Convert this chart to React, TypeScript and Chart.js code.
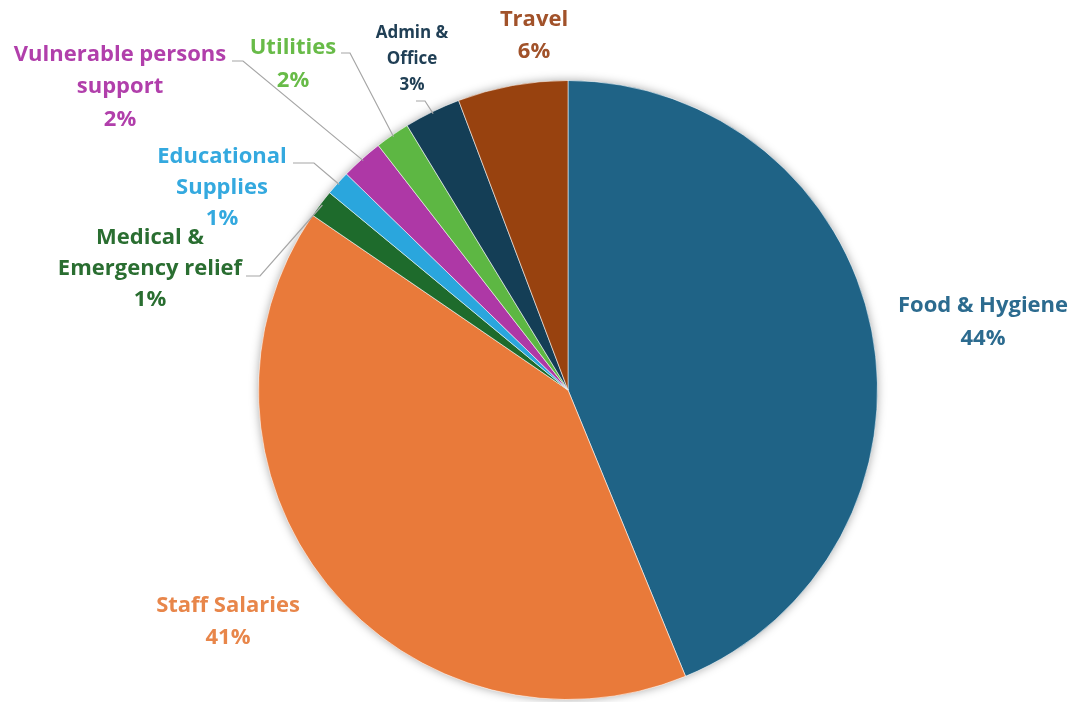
import React, { useEffect, useRef } from "react";
import { Chart, registerables } from "chart.js";

Chart.register(...registerables);

// ---- Data ----
const categories = [
  "Food & Hygiene",
  "Staff Salaries",
  "Medical & Emergency relief",
  "Educational Supplies",
  "Vulnerable persons support",
  "Utilities",
  "Admin & Office",
  "Travel",
];
const shares = [43.8, 40.75, 1.45, 1.3, 2.2, 1.8, 2.95, 5.75];
const labelLines = [
  ["Food & Hygiene"],
  ["Staff Salaries"],
  ["Medical &", "Emergency relief"],
  ["Educational", "Supplies"],
  ["Vulnerable persons", "support"],
  ["Utilities"],
  ["Admin &", "Office"],
  ["Travel"],
];

// ---- Styles ----
const sliceColors = [
  "#1F6386",
  "#E97A3A",
  "#1E6B2C",
  "#2AA6DD",
  "#AE38A6",
  "#5DB743",
  "#143E56",
  "#98420F",
];
const textColors = [
  "#2C6B8F",
  "#E8864A",
  "#2A6E31",
  "#34A9DF",
  "#B13FAB",
  "#68BB48",
  "#203F55",
  "#A1522A",
];

// label layout relative to pie center (px), font size, line height, leader (start, elbow) relative
type LabelLayout = {
  dx: number;
  dy: number;
  size: number;
  lh: number;
  leader?: [number, number][];
};
const labelLayout: LabelLayout[] = [
  { dx: 415, dy: -68, size: 22, lh: 33 },
  { dx: -340, dy: 232, size: 22, lh: 32 },
  { dx: -418, dy: -121, size: 22, lh: 31, leader: [[-322, -114], [-308, -114]] },
  { dx: -346, dy: -202, size: 22, lh: 31, leader: [[-275, -227], [-254, -227]] },
  { dx: -448, dy: -303, size: 22, lh: 32.5, leader: [[-336, -329], [-325, -329]] },
  { dx: -275, dy: -326, size: 22, lh: 33, leader: [[-227, -337], [-218, -337]] },
  { dx: -156, dy: -331, size: 17, lh: 26, leader: [[-152, -289], [-143, -289]] },
  { dx: -34, dy: -354, size: 22, lh: 32 },
];

const FONT = "'Open Sans', Lato, sans-serif";

const shadowPlugin = {
  id: "pieShadow",
  beforeDatasetsDraw(chart: any) {
    const meta = chart.getDatasetMeta(0);
    if (!meta.data.length) return;
    const a: any = meta.data[0];
    const ctx = chart.ctx;
    ctx.save();
    ctx.shadowColor = "rgba(0,0,0,0.35)";
    ctx.shadowBlur = 10;
    ctx.beginPath();
    ctx.arc(a.x, a.y, a.outerRadius, 0, Math.PI * 2);
    ctx.fillStyle = "#ffffff";
    ctx.fill();
    ctx.restore();
  },
};

const labelPlugin = {
  id: "pieLabels",
  afterDatasetsDraw(chart: any) {
    const meta = chart.getDatasetMeta(0);
    const ctx = chart.ctx;
    const data = chart.data.datasets[0].data as number[];
    const total = data.reduce((s, v) => s + v, 0);
    meta.data.forEach((arc: any, i: number) => {
      const lay = labelLayout[i];
      const cx = arc.x;
      const cy = arc.y;
      const mid = (arc.startAngle + arc.endAngle) / 2;
      const r = arc.outerRadius;
      ctx.save();
      if (lay.leader) {
        ctx.strokeStyle = "#A6A6A6";
        ctx.lineWidth = 1.2;
        ctx.beginPath();
        ctx.moveTo(cx + lay.leader[0][0], cy + lay.leader[0][1]);
        ctx.lineTo(cx + lay.leader[1][0], cy + lay.leader[1][1]);
        ctx.lineTo(cx + (r - 2) * Math.cos(mid), cy + (r - 2) * Math.sin(mid));
        ctx.stroke();
      }
      const lines = [...labelLines[i], Math.round((data[i] / total) * 100) + "%"];
      ctx.font = `bold ${lay.size}px ${FONT}`;
      ctx.fillStyle = textColors[i];
      ctx.textAlign = "center";
      ctx.textBaseline = "middle";
      const n = lines.length;
      lines.forEach((t, k) => {
        const yy = cy + lay.dy + (k - (n - 1) / 2) * lay.lh;
        ctx.fillText(t, cx + lay.dx, yy);
      });
      ctx.restore();
    });
  },
};

export default function App() {
  const ref = useRef<HTMLCanvasElement | null>(null);
  useEffect(() => {
    document.body.style.margin = "0";
    if (!ref.current) return;
    const chart = new Chart(ref.current, {
      type: "pie",
      data: {
        labels: categories,
        datasets: [
          {
            data: shares,
            backgroundColor: sliceColors,
            borderColor: "rgba(255,255,255,0.55)",
            borderWidth: 1,
          },
        ],
      },
      options: {
        responsive: false,
        animation: false,
        layout: { padding: { top: 80, bottom: 2, left: 63, right: 0 } },
        plugins: {
          legend: { display: false },
          tooltip: { enabled: false },
        },
      },
      plugins: [shadowPlugin, labelPlugin],
    });
    return () => chart.destroy();
  }, []);
  return (
    <div style={{ width: 1073, height: 702, background: "#ffffff" }}>
      <canvas ref={ref} width={1073} height={702} />
    </div>
  );
}
